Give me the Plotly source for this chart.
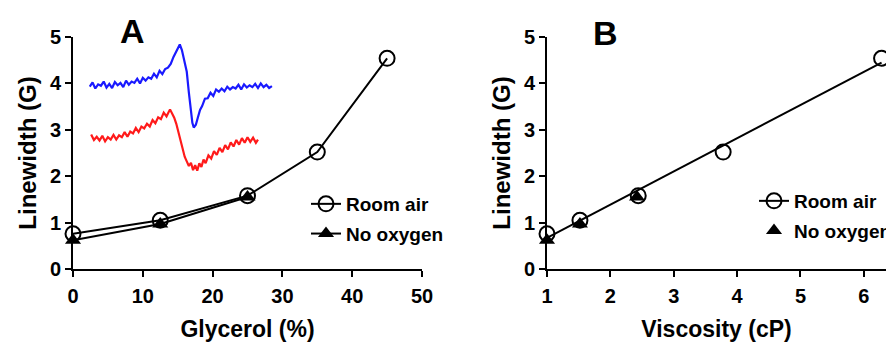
import plotly.graph_objects as go

# ---------------- data ----------------
glycerol = [0, 12.5, 25, 35, 45]
room_air = [0.76, 1.05, 1.58, 2.52, 4.54]
glycerol_noox = [0, 12.5, 25]
no_oxygen = [0.62, 0.97, 1.55]

viscosity = [1.0, 1.52, 2.44, 3.78, 6.28]
viscosity_noox = [1.0, 1.52, 2.42]
fit_x = [1.0, 6.28]
fit_y = [0.67, 4.45]

# EPR spectra inset (drawn in panel A data coordinates)
blue_x = [2.4, 2.8, 3.2, 3.6, 4.0, 4.4, 4.8, 5.2, 5.6, 6.0, 6.4, 6.8, 7.2, 7.6, 8.0, 8.4, 8.8, 9.2, 9.6,
          10.0, 10.4, 10.8, 11.2, 11.6, 12.0, 12.4, 12.8, 13.2, 13.6, 14.0, 14.4, 14.8, 15.1, 15.3, 15.6,
          16.0, 16.3, 16.6, 16.9, 17.1, 17.3, 17.6, 17.9, 18.2, 18.5, 18.9, 19.3, 19.7, 20.1, 20.5, 20.9,
          21.3, 21.7, 22.1, 22.5, 22.9, 23.3, 23.7, 24.1, 24.5, 24.9, 25.3, 25.7, 26.1, 26.5, 26.9, 27.3,
          27.7, 28.1, 28.5]
blue_y = [3.93, 4.02, 3.89, 3.98, 3.95, 4.04, 3.91, 3.99, 3.90, 4.03, 3.96, 4.01, 3.92, 4.06, 3.97, 4.04,
          4.01, 4.10, 4.00, 4.12, 4.06, 4.13, 4.10, 4.21, 4.13, 4.27, 4.20, 4.31, 4.34, 4.42, 4.57, 4.69,
          4.79, 4.84, 4.72, 4.46, 4.25, 3.80, 3.40, 3.15, 3.05, 3.11, 3.27, 3.43, 3.51, 3.67, 3.68, 3.80,
          3.73, 3.87, 3.82, 3.89, 3.83, 3.93, 3.87, 3.92, 3.89, 3.97, 3.87, 3.98, 3.91, 3.96, 3.92, 3.99,
          3.90, 4.00, 3.92, 3.97, 3.90, 3.94]
red_x = [2.6, 3.0, 3.4, 3.8, 4.2, 4.6, 5.0, 5.4, 5.8, 6.2, 6.6, 7.0, 7.4, 7.8, 8.2, 8.6, 9.0, 9.4, 9.8,
         10.2, 10.6, 11.0, 11.4, 11.8, 12.2, 12.6, 13.0, 13.4, 13.9, 14.2, 14.5, 14.8, 15.1, 15.4, 15.7,
         16.0, 16.3, 16.6, 16.9, 17.2, 17.5, 17.8, 18.1, 18.4, 18.7, 19.0, 19.4, 19.8, 20.2, 20.6, 21.0,
         21.4, 21.8, 22.2, 22.6, 23.0, 23.4, 23.8, 24.2, 24.6, 25.0, 25.4, 25.8, 26.2, 26.5]
red_y = [2.90, 2.78, 2.85, 2.77, 2.87, 2.75, 2.84, 2.79, 2.89, 2.79, 2.88, 2.84, 2.95, 2.85, 2.96, 2.92,
         3.04, 2.95, 3.07, 3.03, 3.13, 3.07, 3.21, 3.14, 3.27, 3.23, 3.37, 3.29, 3.44, 3.36, 3.26, 3.13,
         2.95, 2.78, 2.58, 2.42, 2.32, 2.22, 2.29, 2.13, 2.24, 2.12, 2.28, 2.20, 2.36, 2.28, 2.45, 2.38,
         2.54, 2.46, 2.61, 2.52, 2.67, 2.58, 2.73, 2.64, 2.78, 2.68, 2.82, 2.72, 2.84, 2.74, 2.83, 2.72,
         2.79]

# ---------------- figure ----------------
W, H = 886, 345
FONT = "Liberation Sans, Arial, sans-serif"

circle_marker = dict(symbol="circle-open", size=15, color="black", line=dict(width=2, color="black"))
tri_marker = dict(symbol="triangle-up", size=14, color="black", line=dict(width=0))

fig = go.Figure()

# Panel A spectra
fig.add_trace(go.Scatter(x=blue_x, y=blue_y, mode="lines", line=dict(color="#1a1aff", width=2.2),
                         showlegend=False, hoverinfo="skip", xaxis="x", yaxis="y"))
fig.add_trace(go.Scatter(x=red_x, y=red_y, mode="lines", line=dict(color="#ff1a1a", width=2.2),
                         showlegend=False, hoverinfo="skip", xaxis="x", yaxis="y"))

# Panel A data
fig.add_trace(go.Scatter(x=glycerol, y=room_air, mode="lines+markers", name="Room air",
                         line=dict(color="black", width=2), marker=circle_marker,
                         cliponaxis=False, legend="legend", legendgroup="a1", xaxis="x", yaxis="y"))
fig.add_trace(go.Scatter(x=glycerol_noox, y=no_oxygen, mode="lines+markers", name="No oxygen",
                         line=dict(color="black", width=2), marker=tri_marker,
                         cliponaxis=False, legend="legend", legendgroup="a2", xaxis="x", yaxis="y"))

# Panel B data
fig.add_trace(go.Scatter(x=fit_x, y=fit_y, mode="lines", line=dict(color="black", width=2),
                         showlegend=False, cliponaxis=False, xaxis="x2", yaxis="y2"))
fig.add_trace(go.Scatter(x=viscosity, y=room_air, mode="markers", marker=circle_marker,
                         showlegend=False, cliponaxis=False, xaxis="x2", yaxis="y2"))
fig.add_trace(go.Scatter(x=[None], y=[None], mode="lines+markers", name="Room air",
                         line=dict(color="black", width=2), marker=circle_marker,
                         legend="legend2", legendgroup="b1", xaxis="x2", yaxis="y2"))
fig.add_trace(go.Scatter(x=viscosity_noox, y=no_oxygen, mode="markers", name="No oxygen",
                         marker=tri_marker, cliponaxis=False,
                         legend="legend2", legendgroup="b2", xaxis="x2", yaxis="y2"))

axis_common = dict(showline=True, linecolor="black", linewidth=2, ticks="outside", ticklen=6,
                   tickwidth=2, tickcolor="black", showgrid=False, zeroline=False,
                   tickfont=dict(size=20, color="black", family=FONT, weight="bold"))

y_dom = [(H - 269) / H, (H - 37) / H]

fig.update_layout(
    width=W, height=H,
    margin=dict(l=0, r=0, t=0, b=0, autoexpand=False),
    paper_bgcolor="white", plot_bgcolor="white",
    font=dict(family=FONT, color="black", weight="bold"),
    xaxis=dict(domain=[73 / W, 422 / W], range=[0, 50], tickvals=[0, 10, 20, 30, 40, 50],
               ticklabelstandoff=2,
               title=dict(text="Glycerol (%)", font=dict(size=23, family=FONT, weight="bold"), standoff=15),
               anchor="y", **axis_common),
    yaxis=dict(domain=y_dom, range=[0, 5], tickvals=[0, 1, 2, 3, 4, 5],
               title=dict(text="Linewidth (G)", font=dict(size=24, family=FONT, weight="bold"), standoff=6),
               anchor="x", **axis_common),
    xaxis2=dict(domain=[547 / W, 1.0], range=[1, 6.35], tickvals=[1, 2, 3, 4, 5, 6],
                ticklabelstandoff=2,
                title=dict(text="Viscosity (cP)", font=dict(size=23, family=FONT, weight="bold"), standoff=15),
                anchor="y2", **axis_common),
    yaxis2=dict(domain=y_dom, range=[0, 5], tickvals=[0, 1, 2, 3, 4, 5],
                title=dict(text="Linewidth (G)", font=dict(size=24, family=FONT, weight="bold"), standoff=6),
                anchor="x2", **axis_common),
    legend=dict(x=306 / W, y=(H - 185) / H, xanchor="left", yanchor="top", bgcolor="rgba(0,0,0,0)",
                font=dict(size=19, family=FONT, weight="bold"), traceorder="grouped", tracegroupgap=2,
                itemsizing="trace"),
    legend2=dict(x=754 / W, y=(H - 182) / H, xanchor="left", yanchor="top", bgcolor="rgba(0,0,0,0)",
                 font=dict(size=19, family=FONT, weight="bold"), traceorder="grouped", tracegroupgap=2,
                 itemsizing="trace"),
    annotations=[
        dict(text="A", x=132 / W, y=(H - 31) / H, xref="paper", yref="paper", showarrow=False,
             xanchor="center", yanchor="middle",
             font=dict(size=34, family=FONT, weight="bold", color="black")),
        dict(text="B", x=605 / W, y=(H - 33) / H, xref="paper", yref="paper", showarrow=False,
             xanchor="center", yanchor="middle",
             font=dict(size=34, family=FONT, weight="bold", color="black")),
    ],
)

fig.write_html("out.html", config={"displayModeBar": False},
               post_script="document.body.style.margin='0';document.body.style.overflow='hidden';")
